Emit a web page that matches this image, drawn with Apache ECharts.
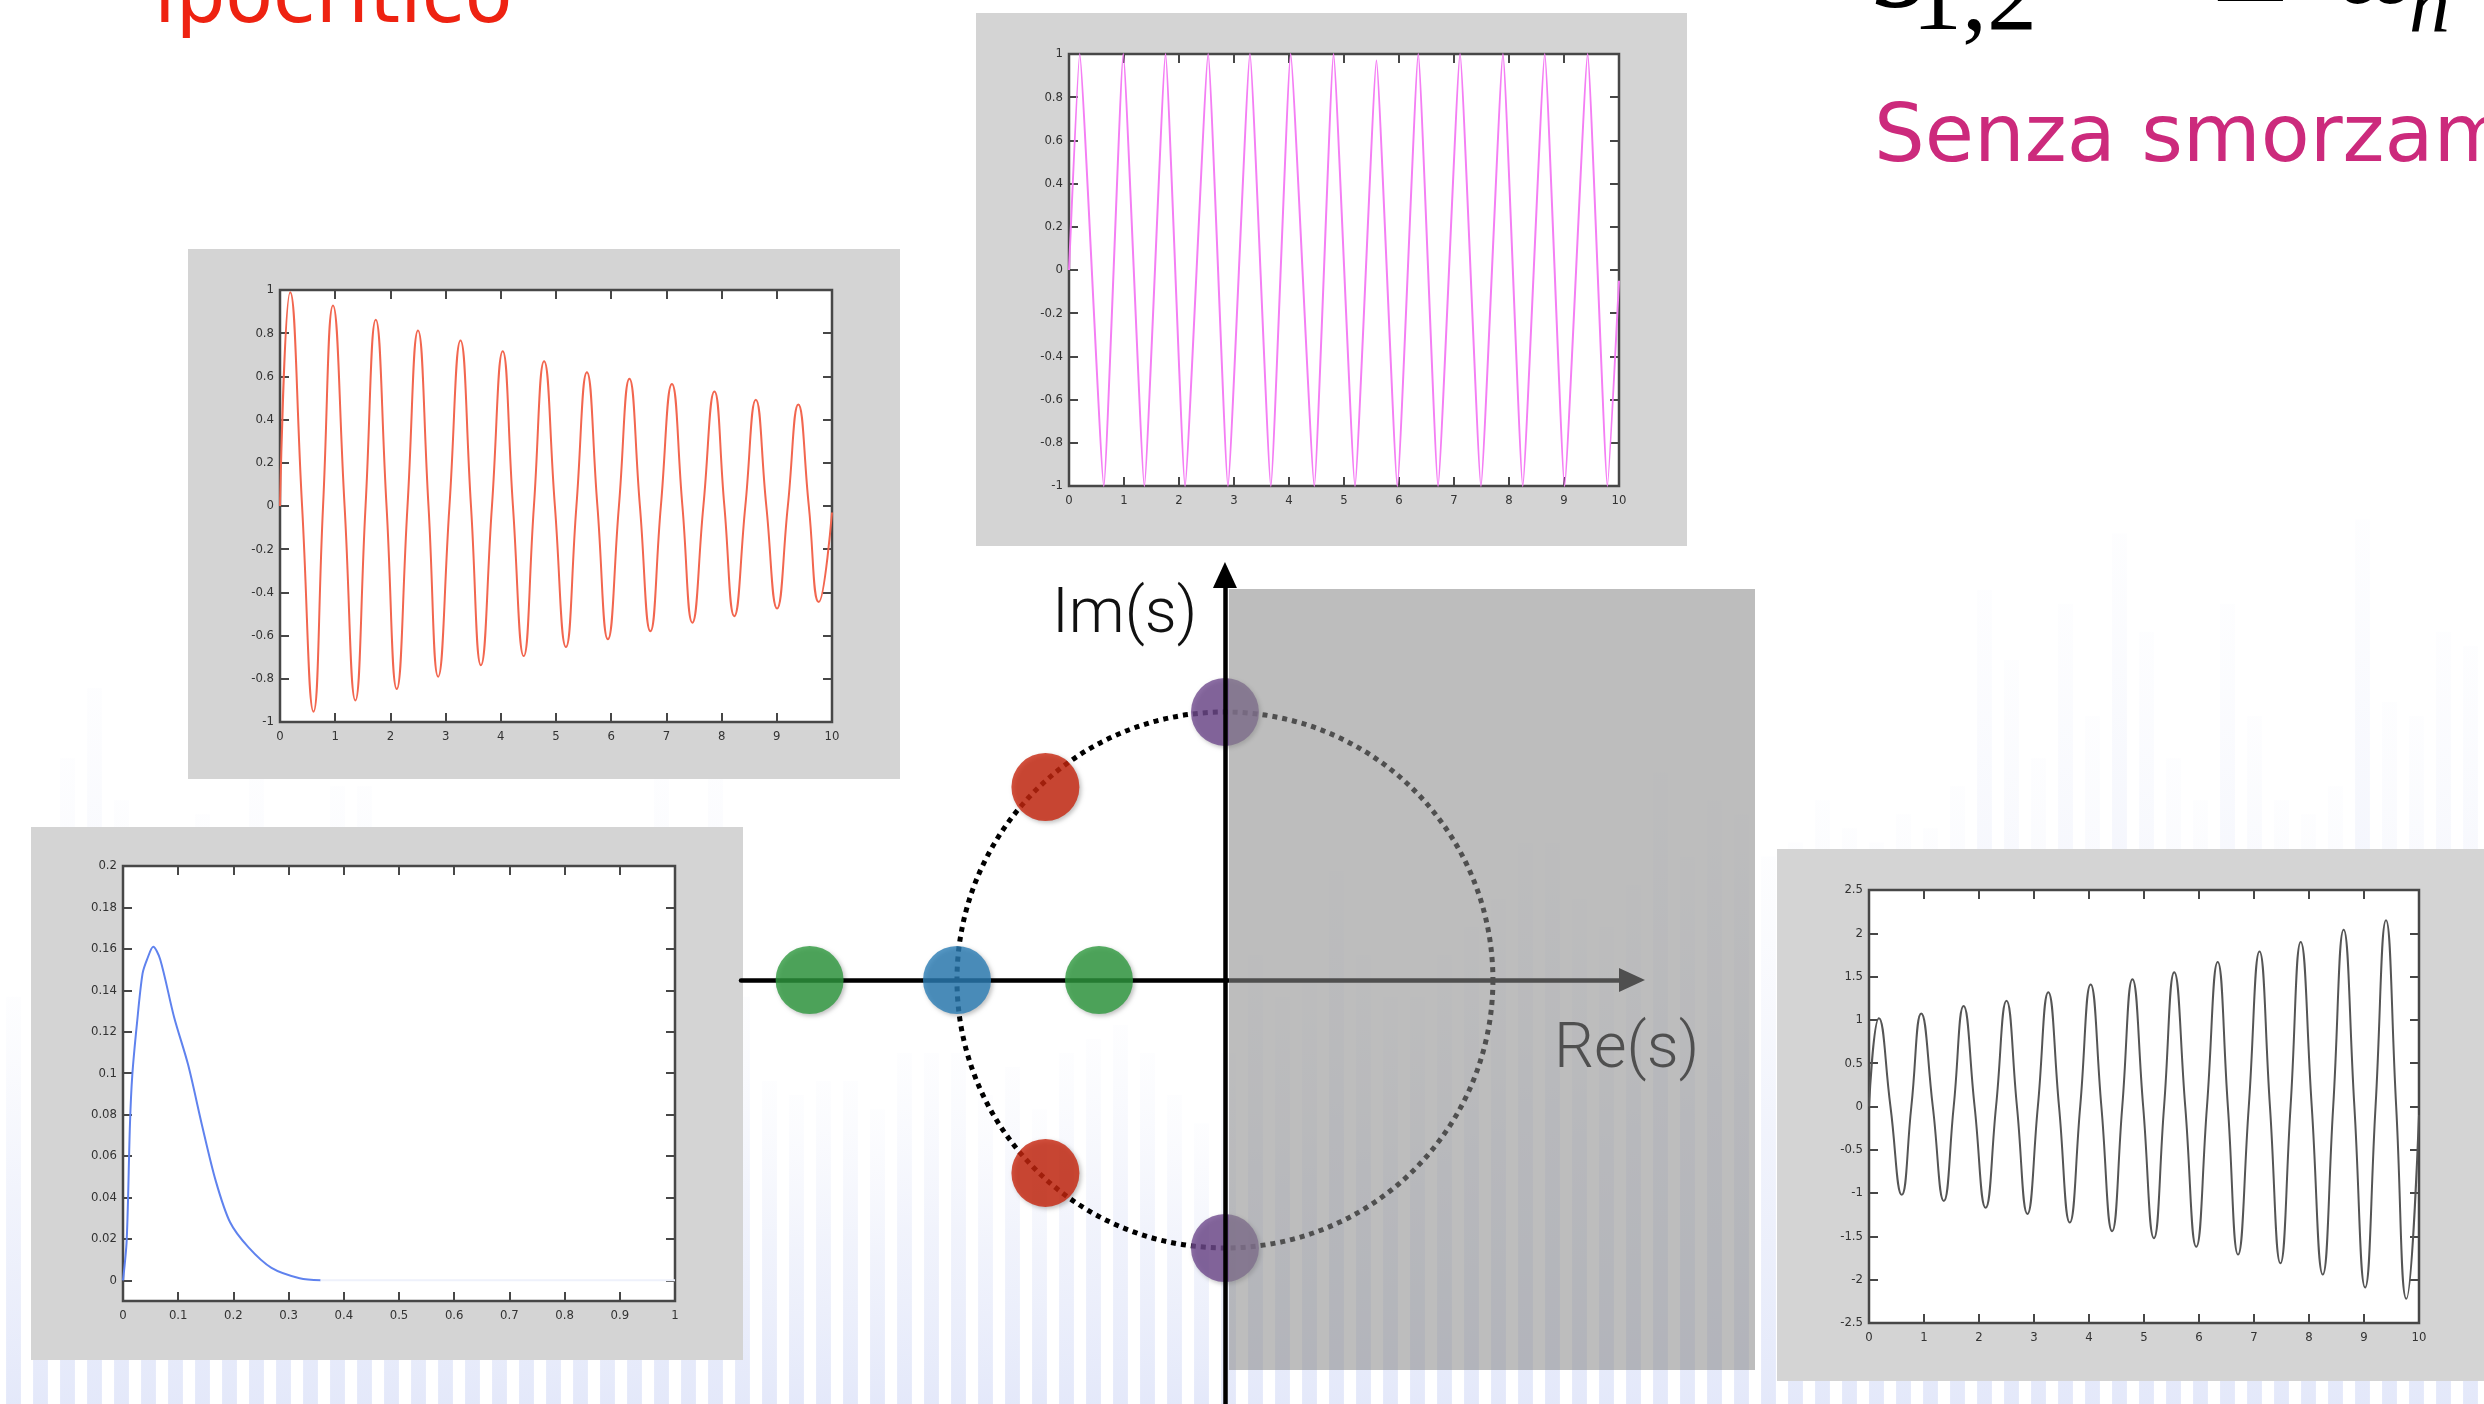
<!DOCTYPE html>
<html><head><meta charset="utf-8">
<script src="https://cdn.jsdelivr.net/npm/echarts@6/dist/echarts.min.js"></script>
<style>html,body{margin:0;padding:0;background:#fff;overflow:hidden}#c{width:2484px;height:1404px}</style>
</head><body><div id="c"></div>
<script>
// ---------------- DATA ----------------
// Panel 1: underdamped (decaying) response, t in s
const redT = [0,0.185,0.40,0.607,0.78,0.96,1.17,1.365,1.55,1.735,1.93,2.115,2.31,2.50,2.69,2.865,3.07,3.27,3.46,3.64,3.84,4.035,4.22,4.415,4.60,4.785,4.98,5.18,5.37,5.56,5.75,5.94,6.14,6.33,6.52,6.71,6.90,7.10,7.29,7.47,7.67,7.87,8.05,8.23,8.43,8.62,8.81,9.005,9.20,9.39,9.58,9.76,10];
const redV = [0,0.99,0,-0.952,0,0.928,0,-0.90,0,0.862,0,-0.847,0,0.813,0,-0.79,0,0.766,0,-0.737,0,0.716,0,-0.695,0,0.67,0,-0.653,0,0.619,0,-0.617,0,0.589,0,-0.58,0,0.565,0,-0.54,0,0.53,0,-0.51,0,0.492,0,-0.474,0,0.47,0,-0.445,-0.03];
// Panel 2: undamped response
const pinkT = [0,0.194,0.633,0.987,1.37,1.755,2.11,2.53,2.89,3.29,3.67,4.03,4.46,4.81,5.20,5.59,5.97,6.35,6.71,7.11,7.49,7.89,8.25,8.65,9.01,9.43,9.79,10];
const pinkV = [0,1,-1,1,-1,1,-1,1,-1,1,-1,1,-1,1,-1,0.97,-1,1,-1,1,-1,1,-1,1,-1,1,-1,-0.05];
// Panel 3: overdamped / critical response
const blueT = [0,0.0067,0.0126,0.0168,0.0253,0.0354,0.0438,0.0547,0.0673,0.0926,0.118,0.143,0.168,0.194,0.227,0.269,0.32,0.358];
const blueV = [0,0.0194,0.0752,0.0989,0.124,0.148,0.155,0.161,0.155,0.127,0.104,0.075,0.048,0.028,0.016,0.006,0.001,0];
const blueTailT = [0.358,1];
const blueTailV = [0,0];
// Panel 4: unstable (growing) response
const grayT = [0,0.18,0.39,0.595,0.77,0.95,1.16,1.36,1.54,1.72,1.92,2.12,2.31,2.50,2.69,2.88,3.07,3.26,3.455,3.65,3.84,4.03,4.225,4.42,4.605,4.79,4.985,5.18,5.365,5.55,5.75,5.95,6.145,6.34,6.525,6.71,6.905,7.10,7.29,7.48,7.665,7.85,8.05,8.25,8.44,8.63,8.825,9.02,9.21,9.40,9.585,9.77,10];
const grayV = [0,1.02,0,-1.02,0,1.075,0,-1.09,0,1.16,0,-1.17,0,1.22,0,-1.24,0,1.32,0,-1.34,0,1.41,0,-1.44,0,1.47,0,-1.52,0,1.55,0,-1.62,0,1.67,0,-1.71,0,1.79,0,-1.81,0,1.90,0,-1.94,0,2.04,0,-2.09,0,2.15,0,-2.22,-0.1];
// Tick label values for panel 3 y axis
const p3YTicks = [0,0.02,0.04,0.06,0.08,0.1,0.12,0.14,0.16,0.18,0.2];
// s-plane poles (units of omega_n)
const poleRe = [0,0,-0.67,-0.67,-1.55,-1.0,-0.47];
const poleIm = [1,-1,0.72,-0.72,0,0,0];
const poleKind = ['undamped','undamped','underdamped','underdamped','overdamped','critical','overdamped'];
const circleR = [1];
const rhpRe = [0.015,1.978];
const rhpIm = [-1.455,1.459];
// Decorative background spectrum (relative heights)
const bgSpectrum = [0.29,0.32,0.46,0.51,0.43,0.39,0.37,0.42,0.40,0.45,0.38,0.41,0.44,0.44,0.30,0.25,0.33,0.28,0.22,0.35,0.27,0.30,0.24,0.32,0.45,0.40,0.46,0.29,
0.23,0.22,0.23,0.23,0.21,0.25,0.25,0.25,0.22,0.24,0.21,0.25,0.26,0.27,0.25,0.22,0.20,0.25,0.32,0.29,0.30,0.38,0.32,0.29,0.29,0.32,0.34,0.36,0.40,0.40,0.36,0.34,0.37,0.45,0.39,0.43,0.42,
0.39,0.40,0.43,0.41,0.40,0.42,0.41,0.44,0.58,0.53,0.46,0.57,0.49,0.62,0.55,0.46,0.43,0.57,0.49,0.43,0.42,0.44,0.63,0.50,0.49,0.55,0.54];

// ---------------- BUILD ----------------
const pairs = (T,V) => T.map((t,i)=>[t,V[i]]);
const poleColors = {undamped:'#714B8F', underdamped:'#C8260E', overdamped:'#2E9A3E', critical:'#2A7DB5'};
const TICKFONT = '"Liberation Sans Narrow","DejaVu Sans Condensed","Liberation Sans",sans-serif';

const grids = [], xAxes = [], yAxes = [], series = [], gfx = [];

// background grid
grids.push({left:0, top:0, right:0, bottom:0, show:false, z:1});
xAxes.push({gridIndex:0, type:'category', data:bgSpectrum.map((_,i)=>i), show:false, boundaryGap:true});
yAxes.push({gridIndex:0, type:'value', min:0, max:1, show:false});
series.push({type:'bar', xAxisIndex:0, yAxisIndex:0, data:bgSpectrum, barWidth:'55%', silent:true, z:1,
  itemStyle:{color:new echarts.graphic.LinearGradient(0,0,0,1,[{offset:0,color:'rgba(230,234,249,0.08)'},{offset:0.5,color:'rgba(218,224,247,0.38)'},{offset:1,color:'rgba(208,216,246,0.58)'}])}});

const panels = [
  {box:[188,249,712,530], plot:[280,290,552,432], x:[0,10,1], y:[-1,1,0.2], data:pairs(redT,redV), color:'#F2664F', smooth:0.5},
  {box:[976,13,711,533], plot:[1069,54,550,432], x:[0,10,1], y:[-1,1,0.2], data:pairs(pinkT,pinkV), color:'#F47EF4', smooth:0.12},
  {box:[31,827,712,533], plot:[123,866,552,435], x:[0,1,0.1], y:[-0.01,0.2,null], custom:p3YTicks, data:pairs(blueT,blueV), color:'#5F82EE', smooth:0.3, tail:pairs(blueTailT,blueTailV)},
  {box:[1777,849,707,532], plot:[1869,890,550,433], x:[0,10,1], y:[-2.5,2.5,0.5], data:pairs(grayT,grayV), color:'#555555', smooth:0.5}
];

panels.forEach((p)=>{
  gfx.push({type:'rect', z:2, shape:{x:p.box[0], y:p.box[1], width:p.box[2], height:p.box[3]}, style:{fill:'#D4D4D4'}});
  const gi = grids.length;
  grids.push({left:p.plot[0], top:p.plot[1], width:p.plot[2], height:p.plot[3], show:true, backgroundColor:'#fff', borderColor:'#474747', borderWidth:2.5, z:3});
  const tick = {show:true, inside:true, length:9, lineStyle:{color:'#474747', width:2}};
  const lab = {show:true, fontSize:13, color:'#333', fontFamily:TICKFONT, margin:8};
  const noLine = {show:false, onZero:false};
  const xi = xAxes.length;
  xAxes.push({gridIndex:gi, type:'value', position:'bottom', min:p.x[0], max:p.x[1], interval:p.x[2], axisLine:noLine, axisTick:tick, axisLabel:lab, splitLine:{show:false}, z:3});
  xAxes.push({gridIndex:gi, type:'value', position:'top', min:p.x[0], max:p.x[1], interval:p.x[2], axisLine:noLine, axisTick:tick, axisLabel:{show:false}, splitLine:{show:false}, z:3});
  const yi = yAxes.length;
  const yBase = {gridIndex:gi, type:'value', min:p.y[0], max:p.y[1], axisLine:noLine, splitLine:{show:false}, z:3};
  if (p.custom) {
    yAxes.push(Object.assign({}, yBase, {position:'left', axisTick:Object.assign({}, tick, {customValues:p.custom}), axisLabel:Object.assign({}, lab, {customValues:p.custom, margin:6})}));
    yAxes.push(Object.assign({}, yBase, {position:'right', axisTick:Object.assign({}, tick, {customValues:p.custom}), axisLabel:{show:false}}));
  } else {
    yAxes.push(Object.assign({}, yBase, {position:'left', interval:p.y[2], axisTick:tick, axisLabel:Object.assign({}, lab, {margin:6})}));
    yAxes.push(Object.assign({}, yBase, {position:'right', interval:p.y[2], axisTick:tick, axisLabel:{show:false}}));
  }
  series.push({type:'line', xAxisIndex:xi, yAxisIndex:yi, data:p.data, showSymbol:false, smooth:p.smooth, silent:true, z:4,
    lineStyle:{color:p.color, width:2}});
  if (p.tail) series.push({type:'line', xAxisIndex:xi, yAxisIndex:yi, data:p.tail, showSymbol:false, silent:true, z:4, lineStyle:{color:'#EEF1FB', width:2}});
});

// s-plane
const sg = grids.length;
grids.push({left:741, top:575, width:891, height:829, show:false, z:5});
const sx = xAxes.length, sy = yAxes.length;
xAxes.push({gridIndex:sg, type:'value', min:-1.806, max:1.519, z:5,
  axisLine:{show:true, onZero:true, symbol:['none','triangle'], symbolSize:[24,26], lineStyle:{color:'#000', width:4.5}},
  axisTick:{show:false}, axisLabel:{show:false}, splitLine:{show:false}});
yAxes.push({gridIndex:sg, type:'value', min:-1.582, max:1.511, z:11,
  axisLine:{show:true, onZero:true, symbol:['none','triangle'], symbolSize:[24,26], lineStyle:{color:'#000', width:4.5}},
  axisTick:{show:false}, axisLabel:{show:false}, splitLine:{show:false}});

series.push({type:'custom', coordinateSystem:'cartesian2d', xAxisIndex:sx, yAxisIndex:sy, clip:false, silent:true, z:6,
  data:[[0,0,circleR[0]]],
  renderItem:(params, api)=>{
    const c = api.coord([api.value(0), api.value(1)]);
    const r = api.size([api.value(2), 0])[0];
    return {type:'circle', shape:{cx:c[0], cy:c[1], r:r}, style:{fill:'none', stroke:'#000', lineWidth:5, lineDash:[5,5]}};
  }});
series.push({type:'scatter', xAxisIndex:sx, yAxisIndex:sy, symbolSize:68, silent:true, z:7,
  data:poleRe.map((re,i)=>({value:[re, poleIm[i]], itemStyle:{color:poleColors[poleKind[i]], shadowBlur:4, shadowColor:'rgba(0,0,0,0.3)', shadowOffsetX:2, shadowOffsetY:2}}))});
series.push({type:'custom', coordinateSystem:'cartesian2d', xAxisIndex:sx, yAxisIndex:sy, clip:false, silent:true, z:10,
  data:[[rhpRe[0], rhpIm[1], rhpRe[1], rhpIm[0]]],
  renderItem:(params, api)=>{
    const a = api.coord([api.value(0), api.value(1)]);
    const b = api.coord([api.value(2), api.value(3)]);
    return {type:'rect', shape:{x:a[0], y:a[1], width:b[0]-a[0], height:b[1]-a[1]},
      style:{fill:'rgba(139,139,139,0.57)'}};
  }});

// texts
function txt(s, x, y, font, fill, z){
  return {type:'text', x:x, y:y, z:z||12, silent:true,
    style:{text:s, font:font, fill:fill, align:'left', verticalAlign:'middle', textAlign:'left', textVerticalAlign:'middle'}};
}
gfx.push(txt('ipocritico', 154, 2, '78px "DejaVu Sans"', '#EE2211'));
gfx.push(txt('Senza smorzamento', 1874, 140, '80px "DejaVu Sans"', '#CC2A7C'));
gfx.push(txt('s', 1874, -30, 'italic 140px "Liberation Serif"', '#000'));
gfx.push(txt('1,2', 1912, 3, '100px "Liberation Serif"', '#000'));
gfx.push(txt('=', 2110, -37, '140px "Liberation Serif"', '#000'));
gfx.push(txt('\u00B1', 2212, -36, '140px "Liberation Serif"', '#000'));
gfx.push(txt('\u03C9', 2336, -29, 'italic 120px "Liberation Serif"', '#000'));
gfx.push(txt('n', 2409, 9, 'italic 82px "Liberation Serif"', '#000'));
gfx.push(txt('Im(s)', 1052, 616, '300 63px Roboto', '#111'));
gfx.push(txt('Re(s)', 1554, 1051, '300 63px Roboto', '#000', 7));

const chart = echarts.init(document.getElementById('c'), null, {renderer:'canvas', width:2484, height:1404});
chart.setOption({
  animation:false,
  backgroundColor:'#fff',
  grid:grids, xAxis:xAxes, yAxis:yAxes, series:series,
  graphic:{elements:gfx}
});
</script></body></html>
